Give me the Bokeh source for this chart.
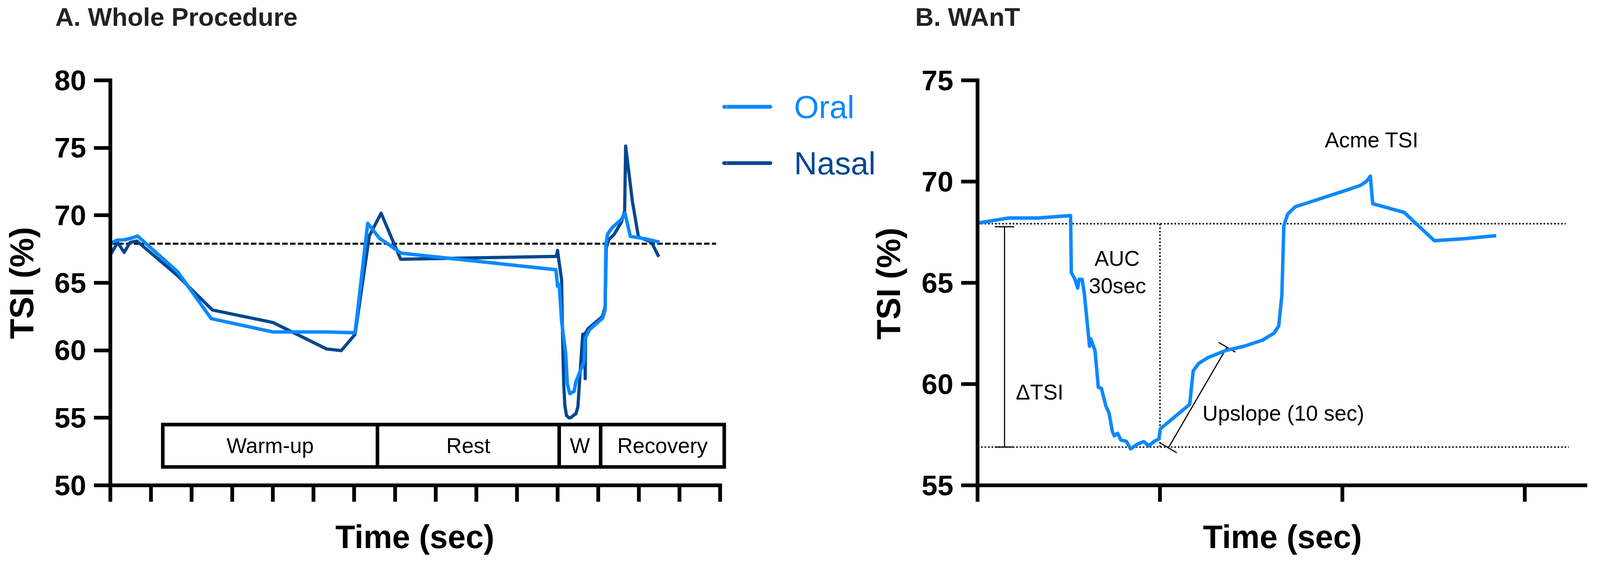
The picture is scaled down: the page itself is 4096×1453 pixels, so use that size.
import math
from bokeh.plotting import figure
from bokeh.models import FixedTicker, Range1d
from bokeh.layouts import row, column
from bokeh.embed import file_html
from bokeh.resources import INLINE
from bokeh.core.properties import value

S = 0.961
ORAL = "#0A89FF"
NASAL = "#00478F"
FONT = "Liberation Sans"

# ---------------- data: A. Whole Procedure (x in tick units) ----------------
oral_x = [0, 0.16, 0.34, 0.53, 0.67, 1.66, 2.48, 4.0, 5.3, 6.02, 6.33, 6.62, 6.74, 7.15,
          10.96, 11.0, 11.04, 11.1, 11.2, 11.24, 11.3, 11.41, 11.45, 11.65, 11.68, 11.78,
          12.11, 12.17, 12.19, 12.23, 12.35, 12.56, 12.66, 12.79, 13.14, 13.51]
oral_y = [67.91, 68.16, 68.19, 68.32, 68.47, 65.8, 62.35, 61.36, 61.36, 61.3, 69.41, 68.3, 68.06, 67.2,
          65.97, 64.75, 64.87, 62.14, 59.78, 57.53, 56.79, 56.97, 57.66, 59.15, 60.9, 61.51,
          62.39, 63.02, 67.87, 68.61, 69.11, 69.67, 70.15, 68.44, 68.27, 68.02]

nasal_x = [0, 0.18, 0.34, 0.48, 0.65, 1.64, 2.51, 4.0, 5.32, 5.68, 6.02, 6.37, 6.66, 7.14,
           10.97, 11.0, 11.04, 11.1, 11.12, 11.15, 11.18, 11.22, 11.28, 11.33, 11.4, 11.45, 11.5,
           11.56, 11.62, 11.67, 11.68, 11.69, 11.75, 12.1, 12.17, 12.2, 12.26, 12.39, 12.57,
           12.65, 12.675, 12.84, 12.99, 13.31, 13.49]
nasal_y = [67.08, 67.98, 67.25, 67.98, 68.1, 65.57, 62.99, 62.06, 60.1, 59.98, 61.18, 68.48, 70.16, 66.75,
           66.96, 67.4, 66.5, 65.2, 61.5, 57.6, 55.9, 55.17, 55.0, 55.02, 55.2, 55.3, 55.8,
           58.6, 61.2, 61.2, 57.9, 61.3, 61.6, 62.5, 63.2, 67.6, 68.2, 68.58, 69.5,
           70.3, 75.13, 71.05, 68.4, 68.02, 66.93]

baseline_a = 67.9
phase_edges = [1.29, 6.57, 11.04, 12.06, 15.1]
phase_names = ["Warm-up", "Rest", "W", "Recovery"]
phase_bottom, phase_top = 51.36, 54.5
yticks_a = [50, 55, 60, 65, 70, 75, 80]
xticks_a = list(range(16))

# ---------------- data: B. WAnT ----------------
want_x = [0, 0.17, 0.33, 0.51, 0.514, 0.532, 0.549, 0.556, 0.573, 0.585, 0.614, 0.62, 0.644, 0.662,
          0.679, 0.703, 0.721, 0.739, 0.75, 0.768, 0.786, 0.815, 0.839, 0.877, 0.911, 0.939,
          0.967, 0.994, 1.002, 1.163, 1.182, 1.212, 1.261, 1.361, 1.461, 1.56, 1.626, 1.651,
          1.668, 1.679, 1.701, 1.742, 1.809, 1.924, 2.024, 2.098, 2.132, 2.153, 2.166, 2.338,
          2.504, 2.669, 2.843]
want_y = [67.95, 68.2, 68.2, 68.32, 65.5, 65.22, 64.74, 65.17, 65.17, 64.5, 61.86, 62.24, 61.65, 59.84,
          59.79, 58.93, 58.56, 57.66, 57.44, 57.57, 57.23, 57.18, 56.8, 57.04, 57.16, 56.95,
          57.16, 57.29, 57.79, 59.0, 60.65, 61.02, 61.3, 61.66, 61.87, 62.16, 62.52, 62.88,
          64.39, 67.83, 68.41, 68.76, 68.95, 69.29, 69.58, 69.81, 70.01, 70.27, 68.91, 68.48,
          67.08, 67.18, 67.33]
want_base = 67.92
want_min = 56.89
auc_end_x = 1.0
dtsi_x, dtsi_top = 0.148, 67.77
upslope_x = [1.046, 1.367]
upslope_y = [56.85, 61.82]
yticks_b = [55, 60, 65, 70, 75]
xticks_b = [0, 1, 2, 3]

# ---------------- layout: page px = reference px * S ----------------
def P(v):
    return v * S

PAGE_L, PAGE_R, PAGE_T, PAGE_B = 8, 4088, 8, 1445
ROW_T, ROW_B = 144, 1322
ROW_H = ROW_B - ROW_T
BT = 69                      # common top border of every plot in the row
BB = 73                      # common bottom border of every plot in the row
FT, FB = ROW_T + BT, ROW_B - BB   # page y of frame top / bottom (all row plots)
X_LEFT_END, X_P1_END, X_LEG_END = 120, 1868, 2340
PXA = 108.3   # reference px per x unit, panel A
PXB = 486.0   # reference px per x unit, panel B

def strip(x0, x1, y0, y1, bt=0, bb=0):
    p = figure(width=x1 - x0, height=y1 - y0, x_range=Range1d(x0, x1),
               y_range=Range1d(y1 - bb, y0 + bt),
               x_axis_type=None, y_axis_type=None, output_backend="svg", toolbar_location=None,
               min_border_left=0, min_border_right=0, min_border_top=bt, min_border_bottom=bb)
    p.grid.visible = False
    p.outline_line_color = None
    p.background_fill_color = "white"
    p.border_fill_color = "white"
    return p

def txt(p, x, y, text, size, bold=False, color="black", align="center", angle=0.0):
    p.text(x=[x], y=[y], text=[text], text_font=value(FONT), text_font_size=f"{P(size):.1f}px",
           text_font_style="bold" if bold else "normal", text_color=color,
           text_align=align, text_baseline="middle", angle=angle)

def style_axes(p, ticks_y, ticks_x):
    for ax in (p.xaxis[0], p.yaxis[0]):
        ax.axis_line_width = P(10)
        ax.axis_line_color = "black"
        ax.axis_line_cap = "square"
        ax.major_tick_line_width = P(10)
        ax.major_tick_line_color = "black"
        ax.major_tick_out = round(P(44))
        ax.major_tick_in = 0
        ax.minor_tick_out = 0
        ax.minor_tick_in = 0
        ax.axis_label = None
    p.yaxis.ticker = FixedTicker(ticks=ticks_y)
    p.xaxis.ticker = FixedTicker(ticks=ticks_x)
    p.yaxis.major_label_text_font = FONT
    p.yaxis.major_label_text_font_style = "bold"
    p.yaxis.major_label_text_font_size = f"{P(76):.1f}px"
    p.yaxis.major_label_text_color = "black"
    p.yaxis.major_label_standoff = round(P(21))
    p.xaxis.major_label_overrides = {t: "" for t in ticks_x}
    p.xaxis.major_label_text_font_size = "1px"
    p.xaxis.major_label_standoff = 0
    p.grid.visible = False
    p.outline_line_color = None
    p.background_fill_color = "white"
    p.border_fill_color = "white"

LEG_X0, LEG_X1, LEG_TX = 1937, 2060, 2123
LEG_Y = [292, 442]

# ---------------- strips (titles, axis titles, legend) ----------------
ptop = strip(PAGE_L, PAGE_R, PAGE_T, ROW_T)
txt(ptop, P(155), P(53), "A. Whole Procedure", 68, bold=True, color="#222222", align="left")
txt(ptop, P(2446), P(53), "B. WAnT", 68, bold=True, color="#222222", align="left")

pbot = strip(PAGE_L, PAGE_R, ROW_B, PAGE_B)
txt(pbot, P(1113), P(1437), "Time (sec)", 86, bold=True)
txt(pbot, P(3424), P(1437), "Time (sec)", 86, bold=True)

pleft = strip(PAGE_L, X_LEFT_END, ROW_T, ROW_B, BT, BB)
txt(pleft, P(66), P(761), "TSI (%)", 88, bold=True, angle=math.pi / 2)

pleg = strip(X_P1_END, X_LEG_END, ROW_T, ROW_B, BT, BB)
for yy, col, name in zip(LEG_Y, [ORAL, NASAL], ["Oral", "Nasal"]):
    pleg.line([P(LEG_X0), P(LEG_X1)], [P(yy), P(yy)], line_color=col, line_width=P(10), line_cap="round")
    txt(pleg, P(LEG_TX), P(yy), name, 85, color=col, align="left")
txt(pleg, P(2375), P(763), "TSI (%)", 88, bold=True, angle=math.pi / 2)

# ---------------- Panel A ----------------
W1 = X_P1_END - X_LEFT_END
BL1 = round(P(302) - X_LEFT_END)
xend1 = (W1 - BL1) / P(PXA)
p1 = figure(width=W1, height=ROW_H, x_range=Range1d(0, xend1), y_range=Range1d(50, 80),
            output_backend="svg", toolbar_location=None,
            min_border_left=BL1, min_border_right=0, min_border_top=BT, min_border_bottom=BB)
style_axes(p1, yticks_a, xticks_a)
p1.xaxis.bounds = (0, 15)

p1.line([0, 14.9], [baseline_a, baseline_a], line_color="black", line_width=P(5.5), line_dash="14 6")
p1.line(nasal_x, nasal_y, line_color=NASAL, line_width=P(8.5), line_join="round")
p1.line(oral_x, oral_y, line_color=ORAL, line_width=P(9.2), line_join="round")

p1.quad(left=[phase_edges[0]], right=[phase_edges[-1]], bottom=[phase_bottom], top=[phase_top],
        fill_color=None, line_color="black", line_width=P(9.5), line_join="miter")
p1.segment(x0=phase_edges[1:-1], y0=[phase_bottom] * 3, x1=phase_edges[1:-1], y1=[phase_top] * 3,
           line_color="black", line_width=P(9.5))
centers = [(a + b) / 2 for a, b in zip(phase_edges[:-1], phase_edges[1:])]
p1.text(x=centers, y=[(phase_bottom + phase_top) / 2] * 4, text=phase_names,
        text_font=value(FONT), text_font_size=f"{P(57):.1f}px", text_align="center",
        text_baseline="middle", text_color="black")

# left end of the legend lines reaches into panel A's frame
PYA = (FB - FT) / 30.0
for yy, col in zip(LEG_Y, [ORAL, NASAL]):
    yv = 80 - (P(yy) - FT) / PYA
    p1.line([(LEG_X0 - 302) / PXA, (LEG_X1 - 302) / PXA], [yv, yv], line_color=col,
            line_width=P(10), line_cap="round")

# ---------------- Panel B ----------------
W2 = PAGE_R - X_LEG_END
BL2 = round(P(2612) - X_LEG_END)
xend2 = (W2 - BL2) / P(PXB)
p2 = figure(width=W2, height=ROW_H, x_range=Range1d(0, xend2), y_range=Range1d(55, 75),
            output_backend="svg", toolbar_location=None,
            min_border_left=BL2, min_border_right=0, min_border_top=BT, min_border_bottom=BB)
style_axes(p2, yticks_b, xticks_b)
p2.xaxis.bounds = (0, (4231 - 2612) / PXB)

dot = dict(line_color="black", line_width=P(4), line_dash="4 5")
p2.line([0, 3.224], [want_base, want_base], **dot)
p2.line([0, 3.241], [want_min, want_min], **dot)
p2.line([auc_end_x, auc_end_x], [want_min, want_base], **dot)

# Delta TSI error bar
p2.line([dtsi_x, dtsi_x], [want_min, dtsi_top], line_color="black", line_width=P(3))
p2.scatter(x=[dtsi_x, dtsi_x], y=[want_min, dtsi_top], marker="dash", size=P(52),
           line_color="black", line_width=P(3))

# Upslope segment with end caps
p2.line(upslope_x, upslope_y, line_color="black", line_width=P(3))
PYB = (FB - FT) / 20.0
dxp = (upslope_x[1] - upslope_x[0]) * P(PXB)
dyp = (upslope_y[1] - upslope_y[0]) * PYB
cap_ang = math.atan2(dyp, dxp) + math.pi / 2
p2.scatter(x=upslope_x, y=upslope_y, marker="dash", size=P(52), angle=cap_ang,
           line_color="black", line_width=P(3))

p2.line(want_x, want_y, line_color=ORAL, line_width=P(9.2), line_join="round")

ann = dict(text_font=value(FONT), text_font_size=f"{P(57):.1f}px", text_baseline="middle",
           text_color="black")
p2.text(x=[0.765, 0.767, 0.3405, 2.161], y=[66.21, 64.86, 59.61, 72.05],
        text=["AUC", "30sec", "ΔTSI", "Acme TSI"], text_align="center", **ann)
p2.text(x=[1.233], y=[58.57], text=["Upslope (10 sec)"], text_align="left", **ann)

layout = column(ptop, row(pleft, p1, pleg, p2), pbot)
open("out.html", "w").write(file_html(layout, INLINE))
